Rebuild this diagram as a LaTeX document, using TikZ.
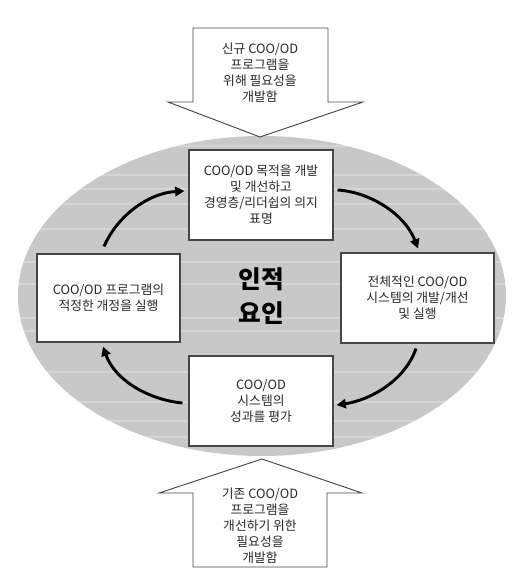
\documentclass[tikz,border=0pt]{standalone}
\usepackage{fontspec}
\newfontfamily\kr{Noto Sans CJK KR}
\usetikzlibrary{arrows.meta}
\definecolor{ellgray}{RGB}{200,200,200}
\definecolor{edgegray}{RGB}{70,70,70}
\definecolor{txtgray}{RGB}{40,40,40}
\tikzset{
  box/.style={draw=edgegray, line width=0.8pt, fill=white, align=center, inner sep=0pt,
              text=txtgray, font=\kr\fontsize{9.6}{12}\selectfont},
  blockarrow/.style={draw=edgegray, line width=0.7pt, fill=white},
  atext/.style={align=center, text=txtgray, font=\kr\fontsize{9.6}{12}\selectfont},
  cycle arrow/.style={line width=2.2pt, -{Triangle[length=7pt,width=7pt]}},
  stripe/.style={white, opacity=0.25, line width=0.8pt}
}
\begin{document}
\begin{tikzpicture}[x=0.75pt,y=-0.75pt]
\useasboundingbox (0,0) rectangle (523,588);
% ellipse
\fill[ellgray] (262,296) ellipse [x radius=183pt, y radius=120pt];
\begin{scope}
  \clip (262,296) ellipse [x radius=183pt, y radius=120pt];
  \foreach \yy in {146,175,189,204,229,262,284,318,331,372,402,421,437}
    \draw[stripe] (0,\yy) -- (523,\yy);
\end{scope}
% top block arrow
\draw[blockarrow] (193,28) -- (328,28) -- (328,102) -- (363,102) -- (260,137) -- (168,102) -- (193,102) -- cycle;
\node[atext] (toptext) at (260,73) {신규 COO/OD\\프로그램을\\위해 필요성을\\개발함};
% bottom block arrow
\draw[blockarrow] (193,567) -- (327,567) -- (327,493) -- (362,493) -- (262,459) -- (159,493) -- (193,493) -- cycle;
\node[atext] (bottext) at (260,526) {기존 COO/OD\\프로그램을\\개선하기 위한\\필요성을\\개발함};
% boxes
\node[box, minimum width=108pt, minimum height=67.5pt] (tbox) at (261,195)
  {COO/OD 목적을 개발\\및 개선하고\\경영층/리더쉽의 의지\\표명};
\node[box, minimum width=107.25pt, minimum height=66pt] (lbox) at (108.5,298)
  {COO/OD 프로그램의\\적정한 개정을 실행};
\node[box, minimum width=114.75pt, minimum height=67.5pt] (rbox) at (417.5,298)
  {전체적인 COO/OD\\시스템의 개발/개선\\및 실행};
\node[box, minimum width=108pt, minimum height=67.5pt] (bbox) at (261,401)
  {COO/OD\\시스템의\\성과를 평가};
% center label
\node[align=center, font=\kr\bfseries\fontsize{18.5}{25}\selectfont] (human) at (261,296) {인적\\요인};
% cycle arrows
\draw[cycle arrow] ([shift={(-4.5,-7)}]lbox.north) .. controls +(14,-32) and +(-35,2) .. ([shift={(-4,-4)}]tbox.west);
\draw[cycle arrow] ([shift={(4,-5)}]tbox.east) .. controls +(33,2) and +(-13,-34) .. ([shift={(0.5,-4)}]rbox.north);
\draw[cycle arrow] ([shift={(-1.5,5)}]rbox.south) .. controls +(-11,32) and +(34,-5) .. ([shift={(3,4)}]bbox.east);
\draw[cycle arrow] ([shift={(-6,2)}]bbox.west) .. controls +(-33,-3) and +(12,34) .. ([shift={(-5.5,4)}]lbox.south);
\end{tikzpicture}
\end{document}
